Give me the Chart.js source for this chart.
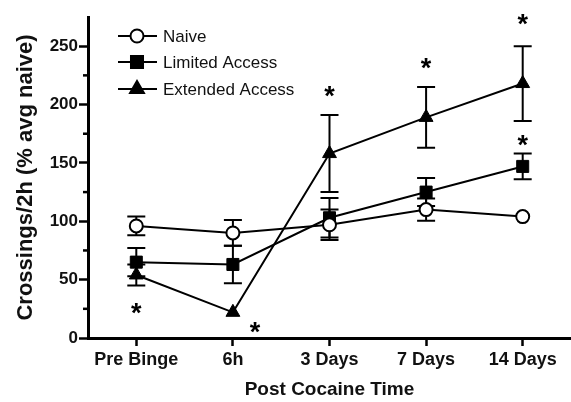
<!DOCTYPE html>
<html>
<head>
<meta charset="utf-8">
<script src="https://cdn.jsdelivr.net/npm/chart.js@4.4.0/dist/chart.umd.min.js"></script>
<style>
    body { margin: 0; background: #fff; }
    #wrap { width: 571px; height: 402px; }
</style>
</head>
<body>
<div id="wrap"><canvas id="locoChart"></canvas></div>
<script>
// time points
var timeLabels = ['Pre Binge', '6h', '3 Days', '7 Days', '14 Days'];

// means (% avg naive)
var naiveMean = [96, 90, 97, 110, 104];
var limitedMean = [65, 63, 103, 125, 147];
var extendedMean = [54, 22, 158, 189, 218];

// SEM
var naiveSem = [8, 11, 13, 9.5, 0];
var limitedSem = [12, 16, 17, 12, 11];
var extendedSem = [9, 0, 33, 26, 32];

// significance stars: category position and value
var starPos = [0, 1.23, 2, 3, 4, 4];
var starVal = [27, 11, 213, 237, 275, 171];

var yTicksMajor = [0, 50, 100, 150, 200, 250];

var errorBars = {
    id: 'errorBars',
    beforeDatasetsDraw: function (chart) {
        var ctx = chart.ctx;
        var y = chart.scales.y;
        var sems = [naiveSem, limitedSem, extendedSem];
        ctx.save();
        ctx.strokeStyle = '#000';
        ctx.lineWidth = 2;
        chart.data.datasets.forEach(function (ds, i) {
            var meta = chart.getDatasetMeta(i);
            meta.data.forEach(function (pt, j) {
                var s = sems[i][j];
                if (!s) return;
                var top = y.getPixelForValue(ds.data[j] + s);
                var bot = y.getPixelForValue(ds.data[j] - s);
                ctx.beginPath();
                ctx.moveTo(pt.x, top);
                ctx.lineTo(pt.x, bot);
                ctx.moveTo(pt.x - 9, top);
                ctx.lineTo(pt.x + 9, top);
                ctx.moveTo(pt.x - 9, bot);
                ctx.lineTo(pt.x + 9, bot);
                ctx.stroke();
            });
        });
        ctx.restore();
    }
};

var extras = {
    id: 'extras',
    afterDraw: function (chart) {
        var ctx = chart.ctx;
        var x = chart.scales.x;
        var y = chart.scales.y;
        ctx.save();

        // minor y ticks
        ctx.strokeStyle = '#000';
        ctx.lineWidth = 2.5;
        [25, 75, 125, 175, 225].forEach(function (v) {
            var py = y.getPixelForValue(v);
            ctx.beginPath();
            ctx.moveTo(chart.chartArea.left - 5, py);
            ctx.lineTo(chart.chartArea.left, py);
            ctx.stroke();
        });

        // stars
        ctx.fillStyle = '#000';
        ctx.font = 'bold 27px "Liberation Sans", Arial, sans-serif';
        ctx.textAlign = 'center';
        ctx.textBaseline = 'alphabetic';
        starPos.forEach(function (p, i) {
            var px = x.getPixelForValue(p);
            var py = y.getPixelForValue(starVal[i]);
            ctx.fillText('*', px, py + 16);
        });

        // legend
        var rows = [36, 62, 89];
        ctx.font = '17px "Liberation Sans", Arial, sans-serif';
        ctx.textAlign = 'left';
        ctx.textBaseline = 'middle';
        chart.data.datasets.forEach(function (ds, i) {
            var ly = rows[i];
            ctx.strokeStyle = '#000';
            ctx.lineWidth = 2;
            ctx.beginPath();
            ctx.moveTo(118, ly);
            ctx.lineTo(157, ly);
            ctx.stroke();
            ctx.fillStyle = ds.pointBackgroundColor;
            ctx.strokeStyle = '#000';
            Chart.helpers.drawPoint(ctx, {
                pointStyle: ds.pointStyle,
                radius: ds.pointRadius,
                rotation: 0,
                borderWidth: 2
            }, 137, ly);
            ctx.fillStyle = '#111';
            ctx.fillText(ds.label, 163, ly + 1);
        });
        ctx.restore();
    }
};

var ctx = document.getElementById('locoChart').getContext('2d');
var chart = new Chart(ctx, {
    type: 'line',
    data: {
        labels: timeLabels,
        datasets: [{
            label: 'Naive',
            data: naiveMean,
            borderColor: '#000',
            borderWidth: 2,
            pointStyle: 'circle',
            pointRadius: 6.5,
            pointBackgroundColor: '#fff',
            pointBorderColor: '#000',
            pointBorderWidth: 2
        }, {
            label: 'Limited Access',
            data: limitedMean,
            borderColor: '#000',
            borderWidth: 2,
            pointStyle: 'rect',
            pointRadius: 8.5,
            pointBackgroundColor: '#000',
            pointBorderColor: '#000',
            pointBorderWidth: 1
        }, {
            label: 'Extended Access',
            data: extendedMean,
            borderColor: '#000',
            borderWidth: 2,
            pointStyle: 'triangle',
            pointRadius: 8,
            pointBackgroundColor: '#000',
            pointBorderColor: '#000',
            pointBorderWidth: 1
        }]
    },
    options: {
        responsive: true,
        maintainAspectRatio: false,
        animation: false,
        layout: { autoPadding: false, padding: { top: 17, right: 0, left: 0, bottom: 0 } },
        plugins: {
            legend: { display: false },
            tooltip: { enabled: false }
        },
        scales: {
            x: {
                offset: true,
                afterFit: function (s) { s.height = 64; },
                grid: {
                    offset: false,
                    drawOnChartArea: false,
                    tickLength: 8,
                    tickWidth: 2.5,
                    tickColor: '#000'
                },
                border: { color: '#000', width: 3 },
                ticks: {
                    color: '#111',
                    padding: 3,
                    maxRotation: 0,
                    font: { family: '"Liberation Sans", Arial, sans-serif', size: 18, weight: 'bold' }
                },
                title: {
                    display: true,
                    text: 'Post Cocaine Time',
                    color: '#111',
                    padding: { top: 0, bottom: 1 },
                    font: { family: '"Liberation Sans", Arial, sans-serif', size: 19, weight: 'bold' }
                }
            },
            y: {
                min: 0,
                max: 275,
                afterFit: function (s) { s.width = 88; },
                afterBuildTicks: function (s) {
                    s.ticks = yTicksMajor.map(function (v) { return { value: v }; });
                },
                grid: {
                    drawOnChartArea: false,
                    tickLength: 9,
                    tickWidth: 2.5,
                    tickColor: '#000'
                },
                border: { color: '#000', width: 3 },
                ticks: {
                    color: '#111',
                    padding: 1,
                    font: { family: '"Liberation Sans", Arial, sans-serif', size: 17, weight: 'bold' }
                },
                title: {
                    display: true,
                    text: 'Crossings/2h (% avg naive)',
                    color: '#111',
                    padding: { top: 13, bottom: 0 },
                    font: { family: '"Liberation Sans", Arial, sans-serif', size: 22, weight: 'bold' }
                }
            }
        }
    },
    plugins: [errorBars, extras]
});
</script>
</body>
</html>
